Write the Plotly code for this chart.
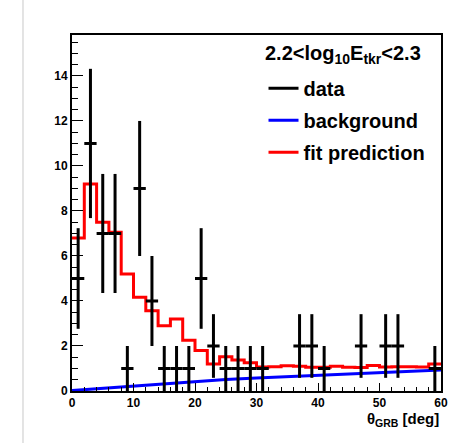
import numpy as np
import plotly.graph_objects as go

# ---- data ----
bin_centers = [1, 3, 5, 7, 9, 11, 13, 15, 17, 19, 21, 23, 25, 27, 29,
               31, 33, 35, 37, 39, 41, 43, 45, 47, 49, 51, 53, 55, 57, 59]
data_counts = [5, 11, 7, 7, 1, 9, 4, 1, 1, 1, 5, 2, 1, 1, 1,
               1, 0, 0, 2, 2, 1, 0, 0, 2, 0, 2, 2, 0, 0, 1]
bin_edges = [0, 2, 4, 6, 8, 10, 12, 14, 16, 18, 20, 22, 24, 26, 28,
             30, 32, 34, 36, 38, 40, 42, 44, 46, 48, 50, 52, 54, 56, 58, 60]
fit_prediction = [6.8, 9.2, 7.5, 7.05, 5.2, 4.17, 3.57, 2.9, 3.2, 2.25, 1.8, 1.2, 1.52, 1.38, 1.25,
                  1.07, 1.08, 1.12, 1.1, 1.05, 1.06, 1.1, 1.05, 1.04, 1.13, 1.07, 1.08, 1.08, 1.07, 1.2]
bg_x = [0, 5, 10, 15, 20, 25, 30, 35, 40, 45, 50, 55, 60]
bg_y = [0.02, 0.12, 0.23, 0.33, 0.42, 0.51, 0.58, 0.64, 0.70, 0.75, 0.81, 0.87, 0.93]

x_ticks = [0, 10, 20, 30, 40, 50, 60]
y_ticks = [0, 2, 4, 6, 8, 10, 12, 14]

title_text = "2.2&lt;log<sub>10</sub>E<sub>tkr</sub>&lt;2.3"
legend_names = ["data", "background", "fit prediction"]

FONT = "Liberation Sans, Arial, Helvetica, sans-serif"

# ---- figure ----
xc = np.array(bin_centers, dtype=float)
n = np.array(data_counts, dtype=float)
mask = n > 0

fig = go.Figure()

# background
fig.add_trace(go.Scatter(x=bg_x, y=bg_y, mode="lines",
                         line=dict(color="rgb(0,0,255)", width=3),
                         showlegend=False, hoverinfo="skip"))
# fit prediction (step histogram)
fig.add_trace(go.Scatter(x=bin_edges, y=fit_prediction + [fit_prediction[-1]], mode="lines",
                         line=dict(color="rgb(255,0,0)", width=3, shape="hv"),
                         showlegend=False, hoverinfo="skip"))
# data with Poisson errors
fig.add_trace(go.Scatter(x=xc[mask], y=n[mask], mode="markers",
                         marker=dict(size=1, color="black"),
                         error_y=dict(type="data", array=np.sqrt(n[mask]), visible=True,
                                      color="black", thickness=3, width=0),
                         error_x=dict(type="constant", value=1, visible=True,
                                      color="black", thickness=3, width=0),
                         showlegend=False))

# legend keys
for name, col, grp in zip(legend_names, ["black", "rgb(0,0,255)", "rgb(255,0,0)"], ["a", "b", "c"]):
    fig.add_trace(go.Scatter(x=[None], y=[None], mode="lines", name=name,
                             line=dict(color=col, width=3), legendgroup=grp))

fig.update_layout(
    width=461, height=443,
    margin=dict(l=72, r=20, t=35, b=52),
    paper_bgcolor="white", plot_bgcolor="white",
    font=dict(family=FONT, color="black"),
    showlegend=True,
    legend=dict(x=0.519, xanchor="left", y=0.905, yanchor="top",
                font=dict(family=FONT, size=20, weight="bold", color="black"),
                bgcolor="rgba(0,0,0,0)", tracegroupgap=3, traceorder="grouped",
                itemwidth=30),
    xaxis=dict(range=[0, 60], tickvals=x_ticks, ticktext=[str(v) for v in x_ticks],
               ticks="inside", ticklen=8, tickwidth=1, tickcolor="black",
               minor=dict(dtick=2, ticks="inside", ticklen=4, tickcolor="black", tickwidth=1),
               showline=True, linecolor="black", linewidth=2, mirror=True,
               showgrid=False, zeroline=False,
               tickfont=dict(family=FONT, size=12, weight="bold", color="black")),
    yaxis=dict(range=[0, 15.82], tickvals=y_ticks, ticktext=[str(v) for v in y_ticks],
               ticks="inside", ticklen=11, tickwidth=1, tickcolor="black",
               minor=dict(dtick=0.5, ticks="inside", ticklen=6, tickcolor="black", tickwidth=1),
               showline=True, linecolor="black", linewidth=2, mirror=True,
               showgrid=False, zeroline=False,
               tickfont=dict(family=FONT, size=12, weight="bold", color="black")),
)

fig.add_annotation(text=title_text, xref="paper", yref="paper", x=0.734, y=0.944,
                   xanchor="center", yanchor="middle", showarrow=False,
                   font=dict(family=FONT, size=20, weight="bold", color="black"))
fig.add_annotation(text="θ<sub>GRB</sub> [deg]", xref="paper", yref="paper", x=1.0, y=-0.081,
                   xanchor="right", yanchor="middle", showarrow=False,
                   font=dict(family=FONT, size=15, weight="bold", color="black"))

fig.add_shape(type="line", xref="paper", yref="paper", x0=-0.1328, x1=-0.1328, y0=-0.15, y1=1.1,
              line=dict(color="#c8c8c8", width=1))

fig.write_html("out.html")
